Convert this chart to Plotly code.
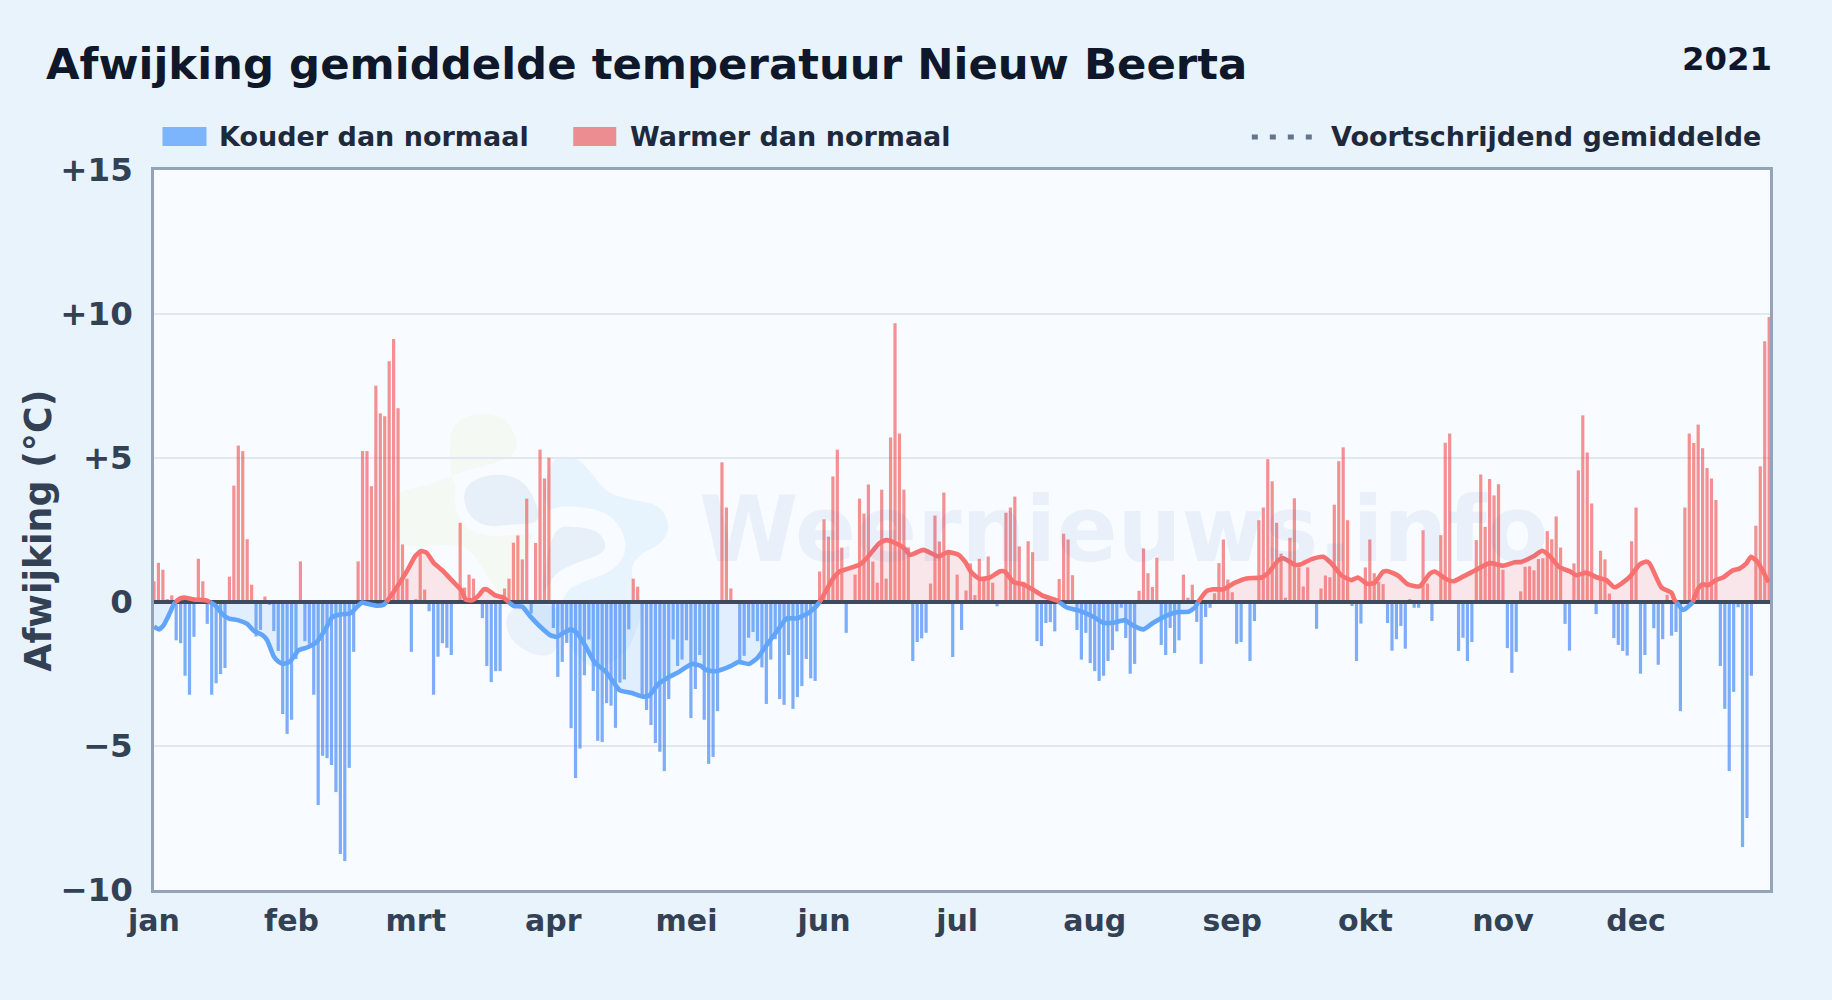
import plotly.graph_objects as go

# ---------- data ----------
deviations = [
 .72,1.36,1.12,.1,.23,-1.33,-1.43,-2.56,-3.22,-1.21,
 1.5,.72,-.76,-3.22,-2.82,-2.5,-2.29,.88,4.04,5.43,
 5.24,2.18,.6,-1.2,-.97,.19,-.1,-1.01,-1.7,-3.89,
 -4.58,-4.09,-1.98,1.41,-1.36,-1.45,-3.22,-7.05,-5.34,-5.42,
 -5.66,-6.6,-8.75,-8.99,-5.76,-1.73,1.41,5.24,5.24,4.02,
 7.51,6.55,6.45,8.36,9.13,6.73,2.0,.81,-1.73,.1,
 1.7,.43,-.32,-3.22,-1.9,-1.43,-1.59,-1.84,0,2.75,
 .5,.95,.81,0,-.56,-2.22,-2.78,-2.4,-2.4,.47,
 .81,2.06,2.31,1.48,3.59,-.4,2.05,5.29,4.29,5.01,
 -.9,-2.6,-2.08,-1.42,-4.38,-6.11,-5.09,-2.54,-1.3,-3.09,
 -4.82,-4.86,-3.51,-3.6,-4.37,-2.8,-2.69,-.95,.81,.53,
 -3.27,-3.75,-4.27,-4.9,-5.2,-5.87,-3.37,-1.3,-2.22,-2.0,
 -1.33,-4.03,-3.02,-1.84,-4.09,-5.62,-5.38,-3.79,4.85,3.28,
 .47,0,-2.02,-1.87,-1.24,-1.04,-1.36,-2.27,-3.54,-2.0,
 -1.29,-3.37,-3.57,-1.84,-3.71,-3.3,-2.92,-1.98,-2.65,-2.74,
 1.06,2.87,2.27,4.36,5.29,1.89,-1.07,0,.95,3.59,
 3.07,4.08,1.4,.67,3.9,.81,5.71,9.68,5.85,3.9,
 1.89,-2.05,-1.39,-1.26,-1.07,.64,3.0,2.1,3.8,1.75,
 -1.91,.95,-.97,.4,1.34,.24,1.5,.75,1.58,.67,
 -.15,0,3.1,3.28,3.66,1.93,.7,2.11,1.73,-1.36,
 -1.53,-.73,-.7,-1.02,.8,2.37,2.17,.93,-.97,-2.0,
 -1.07,-2.12,-2.4,-2.74,-2.56,-2.05,-1.67,-1.02,-.2,-1.25,
 -2.49,-2.15,.39,1.86,1.0,.52,1.54,-1.49,-1.84,-.9,
 -1.77,-1.33,.95,.15,.6,-.69,-2.15,-.52,-.2,.3,
 1.35,2.17,.78,.34,-1.45,-1.39,0,-2.05,-.66,2.84,
 3.28,4.96,4.19,2.75,1.68,.15,2.23,3.6,1.2,.54,
 1.2,0,-.93,.47,.92,.86,3.38,4.89,5.37,2.84,
 -.14,-2.05,-.75,1.2,2.17,1.0,.7,.62,-.73,-1.69,
 -1.29,-.83,-1.62,.1,-.2,-.2,2.49,.64,-.66,0,
 2.32,5.53,5.85,0,-1.7,-1.24,-2.05,-1.39,2.15,4.43,
 2.61,4.27,3.7,4.09,1.12,-1.6,-2.46,-1.73,.37,1.22,
 1.24,1.1,1.49,1.52,2.46,2.18,2.97,1.89,-.76,-1.69,
 1.34,4.57,6.48,5.19,3.42,-.42,1.78,1.48,.29,-1.25,
 -1.49,-1.7,-1.86,2.11,3.28,-2.49,-1.84,0,-.91,-2.18,
 -1.29,.25,-1.17,-1.04,-3.79,3.28,5.85,5.52,6.16,5.34,
 4.65,4.29,3.54,-2.22,-3.71,-5.87,-3.12,-.18,-8.51,-7.5,
 -2.56,2.65,4.71,9.05,9.9,
]
day_index = list(range(len(deviations)))

ma_days = [
 0,1.1,2.2,3.3,4.3,4.8,6,7.1,9,11.6,12.6,13.9,15.4,16.9,18.9,21,22.5,24.4,25.5,27,28.1,29.2,
 30.7,32.6,34.5,36.7,38.6,40.1,41.6,44.3,45.8,46.9,47.6,48.8,50.3,51.8,52.4,54.4,57,58.9,60.2,
 61.5,63,64.9,67.2,69.4,70.2,71.7,73.2,74.3,75.2,76.9,78.8,79.9,81.1,83,84.8,87,89.3,90.8,92.3,
 94,95.3,97.2,99.4,101.7,103.2,105,107.7,110,111.5,113.7,116,118.2,121.2,123.1,124.6,126.8,
 129.9,131.7,134,135.9,138.1,140.4,142.6,144.9,147.5,149,150,151.2,152.8,154.6,156.1,159.1,
 160.6,163.6,165.1,166.6,168.9,170.4,173.4,176.8,178.8,181.3,182.8,184.3,186.1,188.4,190.7,
 191.8,193.7,195.9,198.2,200.4,203.4,204,205.7,208.3,211.7,213.9,216.2,218.8,220.7,223,225.2,
 228.2,230.8,233.1,234.6,235.3,237.2,238.7,241,243.6,246.2,249.6,251.1,253.4,254.5,257.1,258.3,
 260.9,263.5,265.4,267.6,269.9,271.3,273.5,275.1,277,278.1,280.4,282.6,285.2,287.5,288.6,291.2,
 292.8,295,298,301,304,306.7,308.1,310.8,312.9,314.5,316.8,319,320.6,322.8,325.1,327.3,329.2,
 332.5,334.8,336.1,337,339.7,342,342.7,343.1,344.6,346.5,346.8,348,349,350.2,352,353.6,355.8,
 357.3,358.8,359.9,361.4,362.9,363.9,
]
ma_values = [
 -.86,-.95,-.8,-.47,-.13,0,.13,.15,.09,.06,0,-.13,-.42,-.58,-.63,-.76,-1.0,-1.14,-1.33,-1.89,-2.08,-2.15,
 -2.06,-1.67,-1.58,-1.39,-.95,-.54,-.44,-.39,-.16,-.02,-.04,-.09,-.13,-.09,0,.44,1.07,1.6,1.77,
 1.7,1.36,1.11,.74,.38,.09,.06,.23,.44,.42,.23,.15,0,-.14,-.16,-.5,-.85,-1.15,-1.21,-1.07,
 -.95,-1.07,-1.52,-2.12,-2.4,-2.71,-3.07,-3.16,-3.28,-3.26,-2.84,-2.61,-2.44,-2.15,-2.21,-2.37,-2.4,
 -2.23,-2.08,-2.15,-1.96,-1.49,-1.01,-.57,-.57,-.38,-.19,0,.32,.76,1.07,1.14,1.3,
 1.52,2.06,2.15,2.08,1.89,1.64,1.81,1.58,1.73,1.64,1.39,1.01,.8,.85,1.07,
 1.05,.69,.61,.42,.21,.06,0,-.19,-.29,-.51,-.72,-.72,-.63,-.82,-.95,-.72,
 -.47,-.35,-.34,-.19,0,.38,.44,.44,.67,.82,.85,1.01,1.45,1.52,1.29,1.3,
 1.49,1.57,1.33,.92,.76,.85,.63,.67,1.05,1.07,.91,.61,.54,.98,1.06,.8,
 .72,.88,1.12,1.35,1.26,1.38,1.39,1.58,1.78,1.6,1.2,1.07,.93,1.02,.86,.76,.51,
 .86,1.3,1.4,1.35,.51,.32,.06,0,-.28,-.06,0,.47,.62,.58,.76,.85,1.1,
 1.16,1.33,1.57,1.39,.98,.69,
]
month_days = [0,31,59,90,120,151,181,212,243,273,304,334]
month_labels = ["jan","feb","mrt","apr","mei","jun","jul","aug","sep","okt","nov","dec"]
y_ticks = [-10,-5,0,5,10,15]
y_labels = ["−10","−5","0","+5","+10","+15"]

# ---------- layout constants ----------
W, H = 1832, 1000
L, R, T, B = 153.5, 1770.5, 170, 889.8
FONT = "DejaVu Sans"
PAGE = "#e8f3fc"
PLOT = "#f8fbff"
PX_PER_DAY = 4.44

def px(x): return (x - L) / (R - L)
def py(y): return (B - y) / (B - T)

def blob(points):
    """Closed smooth path through pixel points, in paper coordinates."""
    pts = [(px(a), py(b)) for a, b in points]
    n = len(pts)
    mids = [((pts[i][0]+pts[(i+1)%n][0])/2, (pts[i][1]+pts[(i+1)%n][1])/2) for i in range(n)]
    d = f"M {mids[-1][0]},{mids[-1][1]} "
    for i in range(n):
        d += f"Q {pts[i][0]},{pts[i][1]} {mids[i][0]},{mids[i][1]} "
    return d + "Z"

def zm(points):
    return [(380 + a/3, 390 + b/3) for a, b in points]

green = zm([(205,130),(240,85),(310,68),(380,85),(412,150),(405,195),(340,222),(260,240),(190,265),
            (130,290),(50,302),(30,380),(50,475),(200,462),(270,470),(320,560),(370,630),(440,632),
            (530,630),(555,520),(510,440),(440,420),(300,380),(215,300)])
light = zm([(505,200),(590,200),(635,250),(680,310),(760,330),(840,345),(872,410),(840,465),(780,490),
            (745,540),(790,650),(770,720),(740,790),(640,850),(560,760),(510,640),(480,400)])
blob_a = zm([(245,310),(280,265),(360,250),(430,270),(470,340),(480,400),(400,402),(320,412),(265,380)])
blob_b = zm([(510,380),(600,378),(680,400),(714,470),(680,520),(600,545),(540,575),(510,640),(450,640),(470,480)])
blob_c = zm([(385,660),(450,640),(540,650),(530,720),(530,790),(470,800),(400,760),(375,710)])

shapes = []
def add_blob(points, fill, halo=None):
    shapes.append(dict(type="path", path=blob(points), xref="paper", yref="paper", fillcolor=fill,
                       line=dict(color=halo or "rgba(0,0,0,0)", width=20 if halo else 0), layer="below"))
add_blob(green, "#f4faf3")
add_blob(light, "#e8f4fd")
add_blob(blob_a, "#e7f0f9", halo=PLOT)
add_blob(blob_b, "#e7f0f9", halo=PLOT)
add_blob(blob_a, "#e7f0f9")
add_blob(blob_c, "#e9f1fa")

# legend swatches and dots, above the plot
shapes += [
    dict(type="rect", xref="paper", yref="paper", x0=px(162), x1=px(206), y0=py(146), y1=py(127),
         fillcolor="rgba(96,165,250,.8)", line=dict(width=0)),
    dict(type="rect", xref="paper", yref="paper", x0=px(573), x1=px(616), y0=py(146), y1=py(127),
         fillcolor="rgba(239,68,68,.58)", line=dict(width=0)),
    dict(type="line", xref="paper", yref="paper", x0=px(1252), x1=px(1312), y0=py(137), y1=py(137),
         line=dict(color="#64748b", width=5, dash="6px,12px")),
]

def text(x, y, s, size, color, xanchor="left", angle=0):
    return dict(xref="paper", yref="paper", x=px(x), y=py(y), text=s, showarrow=False, textangle=angle,
                xanchor=xanchor, yanchor="middle", font=dict(family=FONT, size=size, color=color, weight="bold"))

annotations = [
    text(1124, 529, "Weernieuws.info", 90, "rgba(50,110,190,.075)", xanchor="center"),
    text(43.5, 64, "Afwijking gemiddelde temperatuur Nieuw Beerta", 43.4, "#0f172a"),
    text(1774.5, 59, "2021", 32.3, "#0f172a", xanchor="right"),
    text(216.7, 137, "Kouder dan normaal", 27, "#1e293b"),
    text(627.7, 137, "Warmer dan normaal", 27, "#1e293b"),
    text(1329, 137, "Voortschrijdend gemiddelde", 27, "#1e293b"),
    text(38, 531, "Afwijking (°C)", 36.4, "#334155", xanchor="center", angle=-90),
]

# ---------- traces ----------
pos = [v if v > 0 else None for v in deviations]
neg = [v if v < 0 else None for v in deviations]
ma_red = [v if v >= 0 else None for v in ma_values]
ma_blue = [v if v <= 0 else None for v in ma_values]
x_end = (R - L) / PX_PER_DAY

fig = go.Figure()
fig.add_bar(x=day_index, y=neg, width=0.72, marker=dict(color="rgba(59,130,246,.65)", line_width=0))
fig.add_bar(x=day_index, y=pos, width=0.72, marker=dict(color="rgba(239,68,68,.58)", line_width=0))
fig.add_scatter(x=ma_days, y=ma_blue, mode="none", fill="tozeroy", fillcolor="rgba(96,165,250,.15)", connectgaps=False)
fig.add_scatter(x=ma_days, y=ma_red, mode="none", fill="tozeroy", fillcolor="rgba(248,113,113,.15)", connectgaps=False)
fig.add_scatter(x=[0, x_end], y=[0, 0], mode="lines", line=dict(color="#3f4a5c", width=4))
fig.add_scatter(x=ma_days, y=ma_blue, mode="lines", line=dict(color="#60a5fa", width=4.6, shape="spline", smoothing=0.5), connectgaps=False)
fig.add_scatter(x=ma_days, y=ma_red, mode="lines", line=dict(color="#f87171", width=4.6, shape="spline", smoothing=0.5), connectgaps=False)

x_font = dict(family=FONT, size=30, color="#334155", weight="bold")
y_font = dict(family=FONT, size=32.5, color="#334155", weight="bold")
fig.update_layout(
    width=W, height=H, showlegend=False, barmode="overlay",
    paper_bgcolor=PAGE, plot_bgcolor=PLOT,
    margin=dict(l=L, r=W-R, t=T, b=H-B, pad=0),
    shapes=shapes, annotations=annotations,
    xaxis=dict(range=[0, x_end], tickmode="array", tickvals=month_days, ticktext=month_labels,
               showgrid=False, zeroline=False, showline=True, linecolor="#94a3b8", linewidth=2.5, mirror=True,
               ticks="outside", ticklen=2, tickcolor="rgba(0,0,0,0)", tickfont=x_font),
    yaxis=dict(range=[-10, 15], tickmode="array", tickvals=y_ticks, ticktext=y_labels,
               showgrid=True, gridcolor="#e2e8f0", gridwidth=2, zeroline=False,
               showline=True, linecolor="#94a3b8", linewidth=2.5, mirror=True,
               ticks="outside", ticklen=12, tickcolor="rgba(0,0,0,0)", tickfont=y_font),
)
fig.write_html("out.html", post_script="document.body.style.margin='0';document.documentElement.style.background='%s';" % PAGE,
               config={"displayModeBar": False})
